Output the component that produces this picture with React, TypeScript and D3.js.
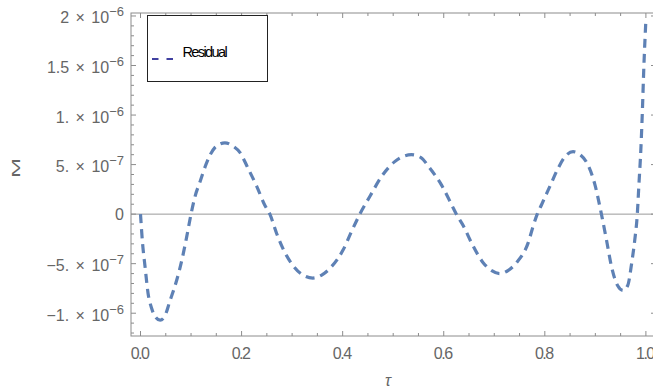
import React from 'react';
import * as d3 from 'd3';

// residual curve (tau, value)
const tau = [
  0.0, 0.004, 0.009, 0.015, 0.022, 0.03, 0.039, 0.048, 0.058, 0.072, 0.082, 0.091, 0.1, 0.108, 0.118, 0.131,
  0.147, 0.167, 0.182, 0.197, 0.213, 0.23, 0.246, 0.256, 0.269, 0.285, 0.302, 0.32, 0.341, 0.36, 0.378, 0.401,
  0.418, 0.434, 0.454, 0.477, 0.503, 0.536, 0.555, 0.573, 0.596, 0.619, 0.625, 0.639, 0.655, 0.678, 0.695, 0.711,
  0.727, 0.744, 0.767, 0.777, 0.785, 0.794, 0.81, 0.826, 0.84, 0.856, 0.87, 0.883, 0.899, 0.912, 0.922, 0.932,
  0.944, 0.955, 0.964, 0.972, 0.978, 0.983, 0.986, 0.99, 0.9927, 0.996, 1.0,
];
const residual = [
  0, -0.29e-6, -0.53e-6, -0.8e-6, -0.95e-6, -1.04e-6, -1.07e-6, -1.03e-6, -0.88e-6, -0.66e-6, -0.46e-6, -0.24e-6,
  0, 0.18e-6, 0.33e-6, 0.52e-6, 0.67e-6, 0.72e-6, 0.69e-6, 0.62e-6, 0.46e-6, 0.28e-6, 0.09e-6, 0, -0.19e-6,
  -0.38e-6, -0.52e-6, -0.61e-6, -0.645e-6, -0.61e-6, -0.53e-6, -0.36e-6, -0.17e-6, 0, 0.18e-6, 0.38e-6, 0.53e-6,
  0.6e-6, 0.57e-6, 0.46e-6, 0.29e-6, 0.06e-6, 0, -0.12e-6, -0.29e-6, -0.49e-6, -0.57e-6, -0.6e-6, -0.57e-6,
  -0.49e-6, -0.29e-6, -0.12e-6, 0, 0.1e-6, 0.28e-6, 0.46e-6, 0.58e-6, 0.63e-6, 0.6e-6, 0.52e-6, 0.3e-6, 0,
  -0.26e-6, -0.53e-6, -0.72e-6, -0.77e-6, -0.72e-6, -0.49e-6, -0.26e-6, 0, 0.28e-6, 0.65e-6, 0.99e-6, 1.49e-6,
  1.96e-6,
];
const seriesName = 'Residual';

const xMajorTicks = [0, 0.2, 0.4, 0.6, 0.8, 1.0];
const xTickLabels = ['0.0', '0.2', '0.4', '0.6', '0.8', '1.0'];
const yMajorTicks = [-1e-6, -5e-7, 0, 5e-7, 1e-6, 1.5e-6, 2e-6];
const yMantissa = ['\u22121.', '\u22125.', '0', '5.', '1.', '1.5', '2'];
const yExponent = ['\u22126', '\u22127', '', '\u22127', '\u22126', '\u22126', '\u22126'];

const W = 653;
const H = 391;
const left = 131;
const right = 656;
const top = 13;
const bottom = 336;

const frameColor = '#8c8c8c';
const labelColor = '#666666';
const lineColor = '#5e81b5';
const font = '"Liberation Sans", Arial, sans-serif';

export default function App() {
  const x = d3.scaleLinear().domain([-0.0188, 1.02]).range([left, right]);
  const y = d3.scaleLinear().domain([-1.23e-6, 2.03e-6]).range([bottom, top]);

  const xMinor = d3.range(0, 21).map((i) => i * 0.05).filter((v) => !xMajorTicks.some((m) => Math.abs(m - v) < 1e-9));
  const yMinor = d3.range(-12, 21).map((i) => i * 1e-7).filter((v) => !yMajorTicks.some((m) => Math.abs(m - v) < 1e-12));

  const points: [number, number][] = tau.map((t, i) => [t, residual[i]]);
  const path = d3
    .line<[number, number]>()
    .x((d) => x(d[0]))
    .y((d) => y(d[1]))
    .curve(d3.curveMonotoneX)(points);

  const major = 5;
  const minor = 3;

  return (
    <svg width={W} height={H} style={{ position: 'fixed', left: 0, top: 0, background: '#fff' }} fontFamily={font}>
      <defs>
        <clipPath id="plotClip">
          <rect x={left} y={top} width={right - left} height={bottom - top} />
        </clipPath>
      </defs>

      {/* zero axis */}
      <line x1={left} x2={right} y1={y(0)} y2={y(0)} stroke="#999" strokeWidth={1} />

      {/* frame */}
      <rect x={left} y={top} width={right - left} height={bottom - top} fill="none" stroke={frameColor} strokeWidth={1} />

      {/* x ticks, bottom and top */}
      {xMajorTicks.map((v) => (
        <g key={'xM' + v}>
          <line x1={x(v)} x2={x(v)} y1={bottom} y2={bottom - major} stroke={frameColor} />
          <line x1={x(v)} x2={x(v)} y1={top} y2={top + major} stroke={frameColor} />
        </g>
      ))}
      {xMinor.map((v) => (
        <g key={'xm' + v}>
          <line x1={x(v)} x2={x(v)} y1={bottom} y2={bottom - minor} stroke={frameColor} />
          <line x1={x(v)} x2={x(v)} y1={top} y2={top + minor} stroke={frameColor} />
        </g>
      ))}

      {/* y ticks, left and right */}
      {yMajorTicks.map((v) => (
        <g key={'yM' + v}>
          <line x1={left} x2={left + major} y1={y(v)} y2={y(v)} stroke={frameColor} />
          <line x1={right} x2={right - major} y1={y(v)} y2={y(v)} stroke={frameColor} />
        </g>
      ))}
      {yMinor.map((v) => (
        <g key={'ym' + v}>
          <line x1={left} x2={left + minor} y1={y(v)} y2={y(v)} stroke={frameColor} />
          <line x1={right} x2={right - minor} y1={y(v)} y2={y(v)} stroke={frameColor} />
        </g>
      ))}

      {/* x tick labels */}
      {xMajorTicks.map((v, i) => (
        <text key={'xl' + v} x={x(v) - 1} y={359} textAnchor="middle" fontSize={16} fill={labelColor} letterSpacing={-1.5}>
          {xTickLabels[i]}
        </text>
      ))}

      {/* y tick labels */}
      {yMajorTicks.map((v, i) =>
        yExponent[i] ? (
          <text key={'yl' + v} x={124} y={y(v) + 7.5} textAnchor="end" fontSize={16} fill={labelColor} wordSpacing={2}>
            {yMantissa[i] + ' \u00d7 10'}
            <tspan dy={-7} fontSize={13}>
              {yExponent[i]}
            </tspan>
          </text>
        ) : (
          <text key={'yl' + v} x={124} y={y(v) + 5.5} textAnchor="end" fontSize={16} fill={labelColor}>
            {yMantissa[i]}
          </text>
        )
      )}

      {/* axis labels */}
      <text x={388} y={386} textAnchor="middle" fontSize={16} fontStyle="italic" fill={labelColor}>
        τ
      </text>
      <text transform="translate(19.5,168) rotate(-90) scale(1.6,0.75)" textAnchor="middle" fontSize={15} fill={labelColor}>
        M
      </text>

      {/* residual curve */}
      <g clipPath="url(#plotClip)">
        <path d={path ?? ''} fill="none" stroke={lineColor} strokeWidth={3.2} strokeDasharray="9,6" />
      </g>

      {/* legend */}
      <rect x={147.5} y={15.5} width={120} height={66} fill="#fff" stroke="#222" strokeWidth={1} />
      <line x1={152} x2={174} y1={59} y2={59} stroke="#4040a0" strokeWidth={2.2} strokeDasharray="6.5,8" />
      <text x={182.5} y={57} fontSize={14.5} fill="#000" letterSpacing={-1.6}>
        {seriesName}
      </text>
    </svg>
  );
}
